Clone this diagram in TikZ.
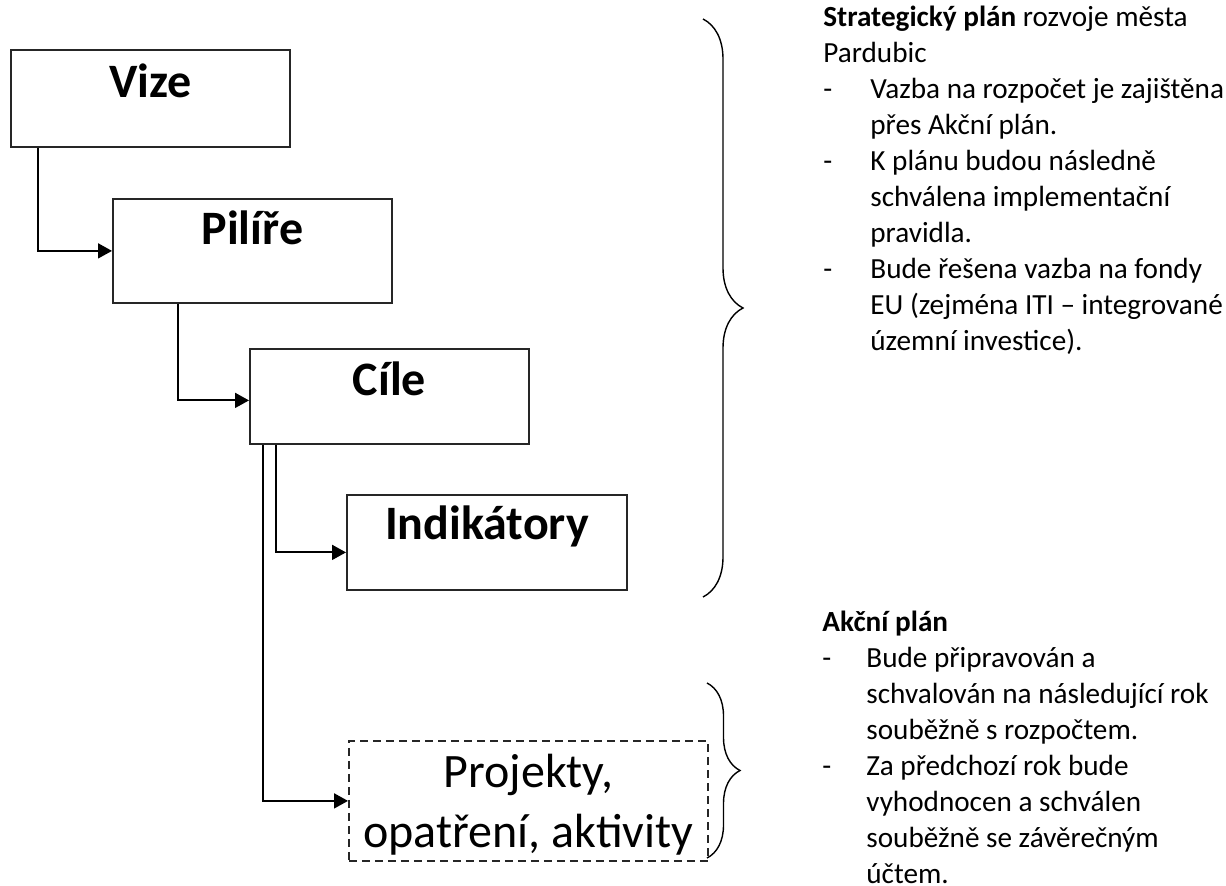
\documentclass[tikz,border=0pt]{standalone}
\usepackage{fontspec}
\setmainfont{Carlito}
\usetikzlibrary{arrows.meta,calc,decorations.pathreplacing}

\begin{document}
\begin{tikzpicture}[x=0.5pt,y=-0.5pt,
  ramec/.style={draw=black!85,line width=0.9pt,inner sep=0pt,
                minimum width=139.5pt,anchor=north west},
  nadpis/.style={font=\bfseries\fontsize{24}{29}\selectfont,inner sep=0pt,anchor=base},
  sipka/.style={line width=0.9pt,-{Triangle[length=7pt,width=7.5pt]}},
  zavorka/.style={line width=0.7pt,decorate,decoration={brace,amplitude=#1}},
  popis/.style={font=\fontsize{14.6}{18}\selectfont,inner sep=0pt,anchor=base west}]
\useasboundingbox (0,0) rectangle (1226,886);

%ramecky
\node[ramec,minimum height=48.5pt] (vize) at (10,49) {};
\node[nadpis] (vizeT) at ($(vize.north)+(0,49)$) {Vize};
\node[ramec,minimum height=52pt] (pilire) at (112,198) {};
\node[nadpis] (pilireT) at ($(pilire.north)+(0,47)$) {Pilíře};
\node[ramec,minimum height=47.5pt] (cile) at (249,348) {};
\node[nadpis] (cileT) at ($(cile.north)+(0,48)$) {Cíle};
\node[ramec,minimum height=47.5pt,minimum width=140pt] (indik) at (346,494) {};
\node[nadpis] (indikT) at ($(indik.north)+(0,46)$) {Indikátory};
\node[ramec,dash pattern=on 4pt off 2.5pt,minimum height=60pt,minimum width=179.5pt] (projekty) at (348,740) {};
\node[nadpis,font=\fontsize{24}{29.5}\selectfont] (projektyT) at ($(projekty.north)+(0,48)$)
  {\begin{tabular}[t]{@{}c@{}}Projekty,\\opatření, aktivity\end{tabular}};

%sipky
\draw[sipka] ($(vize.south west)+(28,0)$) |- (pilire.west);
\draw[sipka] ($(pilire.south west)+(66,0)$) |- ($(cile.west)+(0,4)$);
\draw[sipka] ($(cile.south west)+(27,0)$) |- ($(indik.west)+(0,10)$);
\draw[sipka] ($(cile.south west)+(14,0)$) |- (projekty.west);

%zavorky
\coordinate (z1a) at (703,19);
\coordinate (z1b) at (703,597);
\coordinate (z2a) at (707,683);
\coordinate (z2b) at (707,858);
\draw[zavorka=20pt] (z1a) -- (z1b);
\draw[zavorka=16.5pt] (z2a) -- (z2b);

%texty vpravo
\node[popis] (strategie) at (823,27) {\begin{tabular}[t]{@{}p{23.5pt}@{}l@{}}
  \multicolumn{2}{@{}l@{}}{\textbf{Strategický plán} rozvoje města}\\
  \multicolumn{2}{@{}l@{}}{Pardubic}\\
  -&Vazba na rozpočet je zajištěna\\
   &přes Akční plán.\\
  -&K plánu budou následně\\
   &schválena implementační\\
   &pravidla.\\
  -&Bude řešena vazba na fondy\\
   &EU (zejména ITI – integrované\\
   &územní investice).
\end{tabular}};
\node[popis] (akcni) at (822,632) {\begin{tabular}[t]{@{}p{22pt}@{}l@{}}
  \multicolumn{2}{@{}l@{}}{\textbf{Akční plán}}\\
  -&Bude připravován a\\
   &schvalován na následující rok\\
   &souběžně s rozpočtem.\\
  -&Za předchozí rok bude\\
   &vyhodnocen a schválen\\
   &souběžně se závěrečným\\
   &účtem.
\end{tabular}};
\end{tikzpicture}
\end{document}
